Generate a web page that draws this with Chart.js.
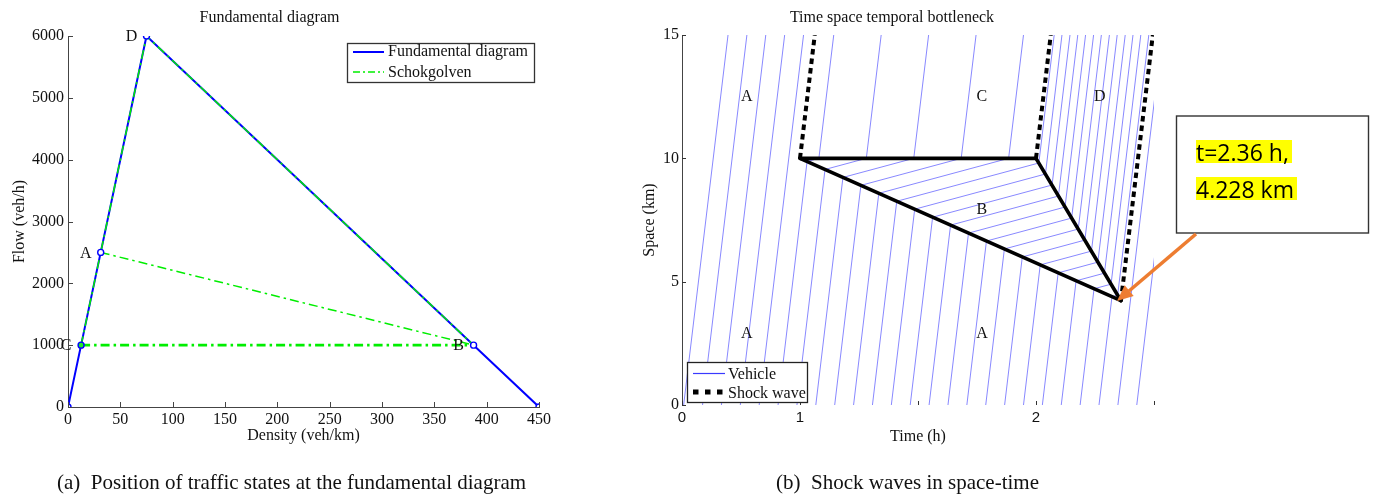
<!DOCTYPE html>
<html>
<head>
<meta charset="utf-8">
<script src="https://cdn.jsdelivr.net/npm/chart.js@4.4.1/dist/chart.umd.min.js"></script>
<style>
html,body{margin:0;padding:0;background:#fff;}
body{width:1373px;height:494px;position:relative;overflow:hidden;}
canvas{position:absolute;top:0;}
#fd{left:0;}
#ts{left:630px;}
#overlay{position:absolute;left:0;top:0;pointer-events:none;}
</style>
</head>
<body>
<canvas id="fd" width="560" height="455" style="width:560px;height:455px"></canvas>
<canvas id="ts" width="540" height="455" style="width:540px;height:455px"></canvas>
<svg id="overlay" width="1373" height="494" xmlns="http://www.w3.org/2000/svg">
  <!-- legend (a) -->
  <rect x="347.5" y="43.5" width="187" height="39" fill="#fff" stroke="#333" stroke-width="1.3"/>
  <line x1="353" y1="52" x2="384" y2="52" stroke="#0000ff" stroke-width="2"/>
  <line x1="353" y1="72" x2="384" y2="72" stroke="#00ee00" stroke-width="1.6" stroke-dasharray="7,3,2,3"/>
  <text x="388" y="55.5" font-family="Liberation Serif" font-size="16" fill="#111">Fundamental diagram</text>
  <text x="388" y="76.5" font-family="Liberation Serif" font-size="16" fill="#111">Schokgolven</text>
  <!-- legend (b) -->
  <rect x="687.5" y="362.5" width="120" height="40" fill="#fff" stroke="#222" stroke-width="1.3"/>
  <line x1="693" y1="373.5" x2="725" y2="373.5" stroke="#3a3aff" stroke-width="1.2"/>
  <rect x="693" y="389.5" width="5.5" height="5" fill="#000"/>
  <rect x="705" y="389.5" width="5.5" height="5" fill="#000"/>
  <rect x="717" y="389.5" width="5.5" height="5" fill="#000"/>
  <text x="728" y="378.5" font-family="Liberation Serif" font-size="16" fill="#111">Vehicle</text>
  <text x="728" y="398" font-family="Liberation Serif" font-size="16" fill="#111">Shock wave</text>
  <!-- annotation -->
  <rect x="1176.5" y="116" width="192" height="117" fill="#fff" stroke="#333" stroke-width="1.4"/>
  <rect x="1196" y="140" width="96" height="23" fill="#ffff00"/>
  <rect x="1196" y="177" width="101" height="23" fill="#ffff00"/>
  <text x="1196" y="160.5" font-family="Open Sans" font-size="23" fill="#000">t=2.36 h,</text>
  <text x="1196" y="197.5" font-family="Open Sans" font-size="23" fill="#000">4.228 km</text>
  <line x1="1196" y1="234" x2="1129" y2="291" stroke="#ED7D31" stroke-width="3.5"/>
  <polygon points="1117,301 1133.7,296 1124.7,285.3" fill="#ED7D31"/>
  <!-- captions -->
  <text x="57" y="488.5" font-family="Liberation Serif" font-size="21" fill="#111">(a)&#160; Position of traffic states at the fundamental diagram</text>
  <text x="776" y="488.5" font-family="Liberation Serif" font-size="21" fill="#111">(b)&#160; Shock waves in space-time</text>
</svg>
<script>
// ---------- (a) Fundamental diagram ----------
const densityTicks = [0, 50, 100, 150, 200, 250, 300, 350, 400, 450];
const flowTicks = [0, 1000, 2000, 3000, 4000, 5000, 6000];
const fdDensity = [0, 12.5, 31.25, 75, 387.5, 450];
const fdFlow = [0, 1000, 2500, 6000, 1000, 0];
const stateNames = ['C', 'A', 'D', 'B'];
const stateDensity = [12.5, 31.25, 75, 387.5];
const stateFlow = [1000, 2500, 6000, 1000];
const shockPaths = [['C', 'A', 'D', 'B'], ['A', 'B'], ['C', 'B']];

// ---------- (b) Time-space diagram ----------
const timeTicks = [0.5, 1, 1.5, 2, 2.5];
const timeTickLabels = ['0', '1', '', '2', ''];
const spaceTicks = [0, 5, 10, 15];
const shockSolidTime = [[1, 2], [1, 2.36], [2, 2.36]];
const shockSolidSpace = [[10, 10], [10, 4.228], [10, 4.228]];
const shockDottedTime = [[1, 1.0625], [2, 2.0625], [2.36, 2.495]];
const shockDottedSpace = [[10, 15], [10, 15], [4.228, 15]];
const vehicleTime = [
  [0.507, 0.695], [0.587, 0.775], [0.667, 0.855], [0.747, 0.935], [0.827, 1.015],
  [0.907, 1.030, 1.080, 1.143], [0.987, 1.106, 1.281, 1.344], [1.067, 1.182, 1.482, 1.545],
  [1.147, 1.258, 1.683, 1.746], [1.227, 1.334, 1.884, 1.947],
  [1.307, 1.410, 2.012, 2.077], [1.387, 1.486, 2.040, 2.110], [1.467, 1.562, 2.068, 2.144],
  [1.547, 1.638, 2.095, 2.177], [1.627, 1.714, 2.123, 2.210], [1.707, 1.790, 2.151, 2.244],
  [1.787, 1.866, 2.179, 2.277], [1.867, 1.942, 2.207, 2.311], [1.947, 2.018, 2.235, 2.344],
  [2.027, 2.094, 2.262, 2.378], [2.107, 2.170, 2.290, 2.411], [2.187, 2.246, 2.318, 2.444],
  [2.267, 2.322, 2.346, 2.478],
  [2.347, 2.535], [2.427, 2.615]
];
const vehicleSpace = [
  [0, 15], [0, 15], [0, 15], [0, 15], [0, 15],
  [0, 9.871, 10, 15], [0, 9.549, 10, 15], [0, 9.226, 10, 15], [0, 8.904, 10, 15], [0, 8.581, 10, 15],
  [0, 8.259, 9.811, 15], [0, 7.937, 9.364, 15], [0, 7.614, 8.918, 15], [0, 7.292, 8.471, 15],
  [0, 6.969, 8.025, 15], [0, 6.647, 7.578, 15], [0, 6.325, 7.132, 15], [0, 6.002, 6.685, 15],
  [0, 5.680, 6.239, 15], [0, 5.357, 5.792, 15], [0, 5.035, 5.345, 15], [0, 4.712, 4.899, 15],
  [0, 4.390, 4.452, 15],
  [0, 15], [0, 15]
];
const regionNames = ['A', 'C', 'D', 'B', 'A', 'A'];
const regionTime = [0.774, 1.771, 2.270, 1.771, 0.774, 1.771];
const regionSpace = [12.5, 12.5, 12.5, 7.9, 2.9, 2.9];

const SERIF = "'Liberation Serif', 'Times New Roman', serif";
const SANS = "'Liberation Sans', Arial, sans-serif";
Chart.defaults.font.family = SERIF;
Chart.defaults.font.size = 16;
Chart.defaults.color = '#111';

function pts(xs, ys) { return xs.map((v, i) => ({ x: v, y: ys[i] })); }

function inwardTicks(len, color) {
  return {
    id: 'inwardTicks',
    afterDraw(chart) {
      const { ctx, chartArea: a, scales: { x, y } } = chart;
      ctx.save();
      ctx.strokeStyle = color; ctx.lineWidth = 1;
      ctx.beginPath();
      x.ticks.forEach(t => {
        const px = Math.round(x.getPixelForValue(t.value)) + 0.5;
        ctx.moveTo(px, a.bottom); ctx.lineTo(px, a.bottom - len);
      });
      y.ticks.forEach(t => {
        const py = Math.round(y.getPixelForValue(t.value)) + 0.5;
        ctx.moveTo(a.left, py); ctx.lineTo(a.left + len, py);
      });
      ctx.stroke();
      ctx.restore();
    }
  };
}

function textLabels(names, xs, ys, dx, dy) {
  return {
    id: 'textLabels',
    afterDatasetsDraw(chart) {
      const { ctx, scales: { x, y } } = chart;
      ctx.save();
      ctx.font = '16px ' + SERIF;
      ctx.fillStyle = '#111';
      ctx.textAlign = 'center';
      ctx.textBaseline = 'middle';
      names.forEach((n, i) => ctx.fillText(n, x.getPixelForValue(xs[i]) + dx, y.getPixelForValue(ys[i]) + dy));
      ctx.restore();
    }
  };
}

function fixedAxis(w, h) {
  return (s) => {
    if (s.isHorizontal()) { s.height = h; s.paddingLeft = 0; s.paddingRight = 0; }
    else { s.width = w; s.paddingTop = 0; s.paddingBottom = 0; }
  };
}

function draw() {
  // ----- chart (a) -----
  const stateIdx = n => stateNames.indexOf(n);
  const greenWidths = [1.5, 1.5, 2.6];
  const fdDatasets = [];
  fdDatasets.push({
    data: pts(fdDensity, fdFlow), showLine: false, pointRadius: 3, pointBorderWidth: 1.4,
    pointBorderColor: '#0000ff', pointBackgroundColor: ['#fff', '#22ee22', '#fff', '#fff', '#fff', '#fff'],
    order: 0
  });
  shockPaths.forEach((p, i) => {
    fdDatasets.push({
      data: p.map(n => ({ x: stateDensity[stateIdx(n)], y: stateFlow[stateIdx(n)] })),
      showLine: true, pointRadius: 0, borderColor: '#00ee00', borderWidth: greenWidths[i],
      borderDash: [9, 4, 2.5, 4], order: 1
    });
  });
  fdDatasets.push({
    data: pts(fdDensity, fdFlow), showLine: true, pointRadius: 0,
    borderColor: '#0000ff', borderWidth: 2, order: 2
  });

  new Chart(document.getElementById('fd'), {
    type: 'scatter',
    data: { datasets: fdDatasets },
    options: {
      responsive: false, animation: false, events: [],
      layout: { padding: { left: 0, right: 21, top: 0, bottom: 0 } },
      plugins: {
        legend: { display: false }, tooltip: { enabled: false },
        title: { display: true, text: 'Fundamental diagram', color: '#111',
          font: { size: 16, weight: 'normal', family: SERIF }, padding: { top: 8.4, bottom: 8.4 } }
      },
      scales: {
        x: {
          type: 'linear', min: 0, max: 450,
          afterBuildTicks: s => { s.ticks = densityTicks.map(v => ({ value: v })); },
          afterFit: fixedAxis(68, 48),
          grid: { display: false, drawTicks: false },
          border: { display: true, color: '#444', width: 1 },
          ticks: { autoSkip: false, maxRotation: 0, padding: 3, color: '#111', callback: v => String(v) },
          title: { display: true, text: 'Density (veh/km)', color: '#111', padding: { top: 0, bottom: 9.4 } }
        },
        y: {
          type: 'linear', min: 0, max: 6000,
          afterBuildTicks: s => { s.ticks = flowTicks.map(v => ({ value: v })); },
          afterFit: fixedAxis(68, 48),
          grid: { display: false, drawTicks: false },
          border: { display: true, color: '#444', width: 1 },
          ticks: { autoSkip: false, padding: 4, color: '#111', callback: v => String(v) },
          title: { display: true, text: 'Flow (veh/h)', color: '#111', padding: { top: 10, bottom: 0 } }
        }
      }
    },
    plugins: [inwardTicks(5, '#444'), textLabels(stateNames, stateDensity, stateFlow, -15, 1)]
  });

  // ----- chart (b) -----
  const tsDatasets = [];
  shockSolidTime.forEach((t, i) => tsDatasets.push({
    data: pts(t, shockSolidSpace[i]), showLine: true, pointRadius: 0,
    borderColor: '#000', borderWidth: 3.6, borderCapStyle: 'round', borderJoinStyle: 'round', order: 0
  }));
  shockDottedTime.forEach((t, i) => tsDatasets.push({
    data: pts(t, shockDottedSpace[i]), showLine: true, pointRadius: 0,
    borderColor: '#000', borderWidth: 4, borderDash: [5.5, 4], order: 0
  }));
  vehicleTime.forEach((t, i) => tsDatasets.push({
    data: pts(t, vehicleSpace[i]), showLine: true, pointRadius: 0,
    borderColor: 'rgb(105,105,255)', borderWidth: 0.8, order: 1, clip: 0
  }));

  new Chart(document.getElementById('ts'), {
    type: 'scatter',
    data: { datasets: tsDatasets },
    options: {
      responsive: false, animation: false, events: [],
      layout: { padding: { left: 0, right: 16, top: 0, bottom: 0 } },
      plugins: {
        legend: { display: false }, tooltip: { enabled: false },
        title: { display: true, text: 'Time space temporal bottleneck', color: '#111',
          font: { size: 16, weight: 'normal', family: SERIF }, padding: { top: 8.4, bottom: 7.4 } }
      },
      scales: {
        x: {
          type: 'linear', min: 0.5, max: 2.5,
          afterBuildTicks: s => { s.ticks = timeTicks.map(v => ({ value: v })); },
          afterFit: fixedAxis(52, 50),
          grid: { display: false, drawTicks: false },
          border: { display: false },
          ticks: { autoSkip: false, maxRotation: 0, padding: 4, color: '#111',
            font: { family: SANS, size: 15 },
            callback: (v, i) => timeTickLabels[i] },
          title: { display: true, text: 'Time (h)', color: '#111', padding: { top: 0, bottom: 8.9 } }
        },
        y: {
          type: 'linear', min: 0, max: 15,
          afterBuildTicks: s => { s.ticks = spaceTicks.map(v => ({ value: v })); },
          afterFit: fixedAxis(52, 50),
          grid: { display: false, drawTicks: false },
          border: { display: true, color: '#444', width: 1 },
          ticks: { autoSkip: false, padding: 3, color: '#111', callback: v => String(v) },
          title: { display: true, text: 'Space (km)', color: '#111', padding: { top: 10.4, bottom: 0 } }
        }
      }
    },
    plugins: [inwardTicks(4, '#333'), textLabels(regionNames, regionTime, regionSpace, 0, 0)]
  });
}

if (document.fonts && document.fonts.load) {
  Promise.all([
    document.fonts.load("16px 'Liberation Serif'"),
    document.fonts.load("15px 'Liberation Sans'"),
    document.fonts.load("23px 'Open Sans'")
  ]).then(draw, draw);
} else {
  draw();
}
</script>
</body>
</html>
